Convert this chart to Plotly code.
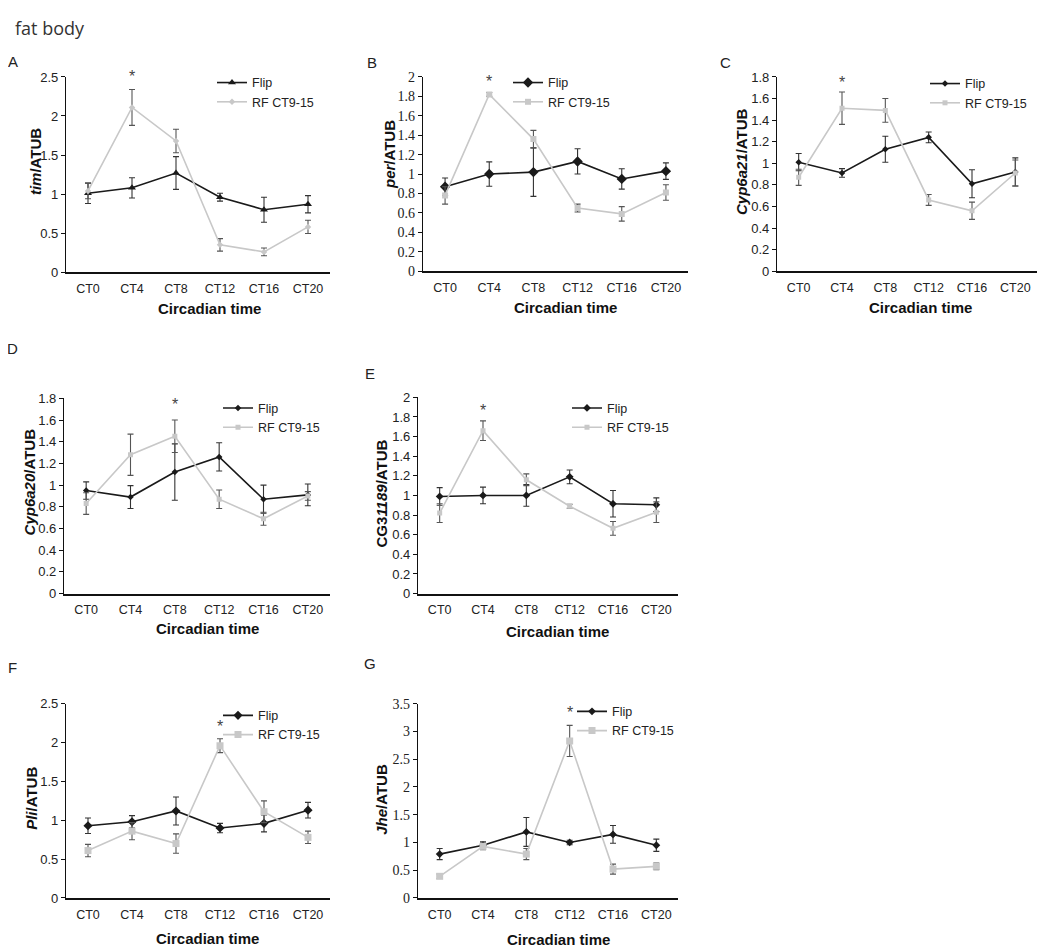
import plotly.graph_objects as go

# page offsets measured from test renders: 8px body margin on x,
# the capture is squeezed vertically (S) and the figure starts a little lower (TOP)
OX = 8
S, TOP = 0.983, 15.4
FW, FH = 1034, 951

# ── data ──────────────────────────────────────────────────────────────────────
cats = ["CT0", "CT4", "CT8", "CT12", "CT16", "CT20"]

tim_flip     = [1.01, 1.08, 1.27, 0.96, 0.80, 0.87]
tim_flip_err = [0.13, 0.13, 0.21, 0.05, 0.16, 0.11]
tim_rf       = [1.04, 2.11, 1.68, 0.35, 0.26, 0.58]
tim_rf_err   = [0.10, 0.23, 0.15, 0.08, 0.05, 0.085]

per_flip     = [0.87, 1.00, 1.02, 1.13, 0.95, 1.03]
per_flip_err = [0.09, 0.125, 0.25, 0.13, 0.105, 0.085]
per_rf       = [0.78, 1.82, 1.36, 0.65, 0.59, 0.81]
per_rf_err   = [0.09, 0.02, 0.09, 0.04, 0.075, 0.08]

c21_flip     = [1.01, 0.91, 1.13, 1.24, 0.81, 0.92]
c21_flip_err = [0.08, 0.04, 0.12, 0.05, 0.13, 0.13]
c21_rf       = [0.87, 1.51, 1.49, 0.66, 0.56, 0.91]
c21_rf_err   = [0.075, 0.15, 0.11, 0.05, 0.08, 0.12]

c20_flip     = [0.95, 0.89, 1.12, 1.26, 0.87, 0.91]
c20_flip_err = [0.08, 0.105, 0.26, 0.13, 0.13, 0.10]
c20_rf       = [0.83, 1.28, 1.45, 0.87, 0.69, 0.90]
c20_rf_err   = [0.10, 0.19, 0.15, 0.085, 0.06, 0.04]

cg_flip      = [0.99, 1.00, 1.00, 1.19, 0.915, 0.905]
cg_flip_err  = [0.09, 0.085, 0.11, 0.07, 0.135, 0.07]
cg_rf        = [0.82, 1.66, 1.16, 0.89, 0.665, 0.83]
cg_rf_err    = [0.095, 0.10, 0.06, 0.02, 0.07, 0.105]

pli_flip     = [0.93, 0.98, 1.12, 0.90, 0.96, 1.13]
pli_flip_err = [0.10, 0.08, 0.18, 0.06, 0.11, 0.10]
pli_rf       = [0.61, 0.86, 0.70, 1.96, 1.11, 0.78]
pli_rf_err   = [0.08, 0.11, 0.125, 0.09, 0.14, 0.08]

jhe_flip     = [0.79, 0.95, 1.19, 1.00, 1.145, 0.95]
jhe_flip_err = [0.10, 0.06, 0.26, 0.04, 0.16, 0.11]
jhe_rf       = [0.39, 0.93, 0.79, 2.83, 0.52, 0.57]
jhe_rf_err   = [0.04, 0.06, 0.10, 0.28, 0.09, 0.06]

# significance star: (category, y value)
stars = [("CT4", 2.50), ("CT4", 1.95), ("CT4", 1.75), ("CT8", 1.74),
         ("CT4", 1.87), ("CT12", 2.21), ("CT12", 3.35)]

# ── panel layout (pixel positions on the 1050x950 page) ───────────────────────
panels = [
    dict(letter="A", title="<b><i>tim</i>/ATUB</b>",
         flip=(tim_flip, tim_flip_err), rf=(tim_rf, tim_rf_err),
         ymax=2.5, dtick=0.5, box=(66, 330, 77, 272),
         fm=("triangle-up", 7), rm=("diamond", 5), serif=False,
         lpos=(13, 62), leg=(212, 68), ytit=(35, 162), xtit=(209, 308)),
    dict(letter="B", title="<b><i>per</i>/ATUB</b>",
         flip=(per_flip, per_flip_err), rf=(per_rf, per_rf_err),
         ymax=2.0, dtick=0.2, box=(423, 688, 77, 271),
         fm=("diamond", 8), rm=("square", 6), serif=True,
         lpos=(372, 63), leg=(508, 68), ytit=(389, 155), xtit=(565, 307)),
    dict(letter="C", title="<b><i>Cyp6a21</i>/ATUB</b>",
         flip=(c21_flip, c21_flip_err), rf=(c21_rf, c21_rf_err),
         ymax=1.8, dtick=0.2, box=(777, 1037, 77, 271),
         fm=("diamond", 5), rm=("square", 5), serif=False,
         lpos=(725, 63), leg=(925, 69), ytit=(741, 162), xtit=(920, 307)),
    dict(letter="D", title="<b><i>Cyp6a20</i>/ATUB</b>",
         flip=(c20_flip, c20_flip_err), rf=(c20_rf, c20_rf_err),
         ymax=1.8, dtick=0.2, box=(64, 330, 398, 593),
         fm=("diamond", 5), rm=("square", 5), serif=False,
         lpos=(12, 348), leg=(218, 393), ytit=(29, 482), xtit=(207, 628)),
    dict(letter="E", title="<b>CG3<i>1189</i>/ATUB</b>",
         flip=(cg_flip, cg_flip_err), rf=(cg_rf, cg_rf_err),
         ymax=2.0, dtick=0.2, box=(418, 678, 397, 593),
         fm=("diamond", 6), rm=("square", 5), serif=False,
         lpos=(370, 373), leg=(567, 393), ytit=(381, 493), xtit=(557, 631)),
    dict(letter="F", title="<b><i>Pli</i>/ATUB</b>",
         flip=(pli_flip, pli_flip_err), rf=(pli_rf, pli_rf_err),
         ymax=2.5, dtick=0.5, box=(66, 330, 703, 897),
         fm=("diamond", 7), rm=("square", 7), serif=False,
         lpos=(12, 667), leg=(218, 700), ytit=(32, 798), xtit=(207, 937)),
    dict(letter="G", title="<b><i>Jhe</i>/ATUB</b>",
         flip=(jhe_flip, jhe_flip_err), rf=(jhe_rf, jhe_rf_err),
         ymax=3.5, dtick=0.5, box=(418, 678, 703, 897),
         fm=("diamond", 6), rm=("square", 7), serif=True,
         lpos=(370, 663), leg=(572, 696), ytit=(382, 799), xtit=(558, 938)),
]

C_FLIP = "#1a1a1a"
C_RF = "#c8c8c8"
SANS = "Liberation Sans, Arial, sans-serif"
SERIF = "Liberation Serif, Times New Roman, serif"


def fx(px):
    return (px - OX) / FW


def fy(py):
    return 1 - (py / S - TOP) / FH


fig = go.Figure()
layout = dict(
    width=FW, height=FH, margin=dict(l=0, r=0, t=0, b=0),
    paper_bgcolor="white", plot_bgcolor="white",
    font=dict(family=SANS, color="#222"),
)
annotations = []


def paper_text(x, y, text, size, color="#222", angle=0, family=SANS, xanchor="center"):
    annotations.append(dict(
        x=fx(x), y=fy(y), xref="paper", yref="paper", text=text,
        showarrow=False, xanchor=xanchor, yanchor="middle", textangle=angle,
        font=dict(family=family, size=size, color=color),
    ))


for i, p in enumerate(panels):
    n = "" if i == 0 else str(i + 1)
    xa, ya = "x" + n, "y" + n
    leg = "legend" + n
    l, r, t, b = p["box"]

    fy_, fe = p["flip"]
    ry, re_ = p["rf"]

    fig.add_trace(go.Scatter(
        x=cats, y=fy_, xaxis=xa, yaxis=ya, legend=leg,
        mode="lines+markers", name="Flip",
        line=dict(color=C_FLIP, width=1.6),
        marker=dict(symbol=p["fm"][0], size=p["fm"][1], color=C_FLIP),
        error_y=dict(type="data", array=fe, color="#333", thickness=1.1, width=3),
    ))
    fig.add_trace(go.Scatter(
        x=cats, y=ry, xaxis=xa, yaxis=ya, legend=leg,
        mode="lines+markers", name="RF CT9-15",
        line=dict(color=C_RF, width=1.6),
        marker=dict(symbol=p["rm"][0], size=p["rm"][1], color=C_RF),
        error_y=dict(type="data", array=re_, color="#555", thickness=1.1, width=3),
    ))

    if p["serif"]:
        tick_font = dict(family=SERIF, size=14, color="#222")
    else:
        tick_font = dict(family=SANS, size=13, color="#222")

    layout["xaxis" + n] = dict(
        domain=[fx(l), fx(r)], anchor=ya, type="category",
        range=[-0.5, 5.5], showgrid=False, zeroline=False,
        showline=True, linecolor="#111", linewidth=1.5, ticks="",
        tickfont=dict(family=SANS, size=12.5, color="#222"),
        ticklabelstandoff=4,
    )
    layout["yaxis" + n] = dict(
        domain=[fy(b), fy(t)], anchor=xa, range=[0, p["ymax"]],
        dtick=p["dtick"], tick0=0, showgrid=False, zeroline=False,
        showline=True, linecolor="#111", linewidth=1.2,
        ticks="outside", ticklen=4, tickcolor="#111",
        tickfont=tick_font,
    )
    lx, ly = p["leg"]
    layout[leg] = dict(
        x=fx(lx), y=fy(ly), xanchor="left", yanchor="top",
        bgcolor="rgba(0,0,0,0)", borderwidth=0, itemwidth=30,
        tracegroupgap=0, font=dict(family=SANS, size=12.5, color="#222"),
    )

    paper_text(*p["lpos"], p["letter"], 15)
    paper_text(*p["ytit"], p["title"], 15, color="#111", angle=-90)
    paper_text(*p["xtit"], "<b>Circadian time</b>", 15, color="#111")

    sc, sy = stars[i]
    annotations.append(dict(
        x=sc, y=sy, xref=xa, yref=ya, text="*", showarrow=False,
        xanchor="center", yanchor="middle",
        font=dict(family=SANS, size=16, color="#444"),
    ))

# figure title, kept inside the top edge of the figure
annotations.append(dict(
    x=fx(14), y=1, xref="paper", yref="paper", text="fat body",
    showarrow=False, xanchor="left", yanchor="top", borderpad=0,
    font=dict(family="Open Sans, Noto Sans, sans-serif", size=18, color="#333"),
))

layout["annotations"] = annotations
fig.update_layout(**layout)

fig.write_html("out.html")
